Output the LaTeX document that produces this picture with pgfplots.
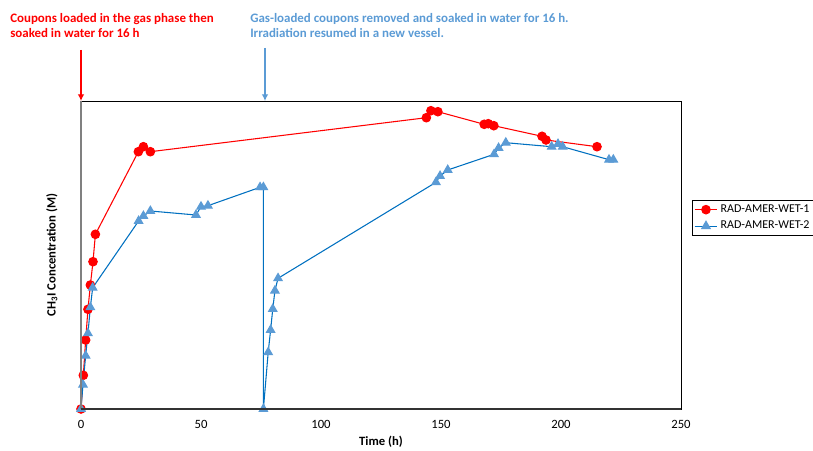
\documentclass[border=0pt]{standalone}
\usepackage{pgfplots}
\pgfplotsset{compat=1.18}
\usetikzlibrary{arrows.meta}
\usepackage{fontspec}
\setmainfont{Carlito}
\definecolor{exred}{RGB}{255,0,0}
\definecolor{exblue}{RGB}{91,155,213}
\definecolor{exline}{RGB}{0,112,192}
\begin{document}
\begin{tikzpicture}[x=0.75pt,y=0.75pt]
\path[use as bounding box] (-81,-41) rectangle (732,409);
\begin{axis}[
  at={(0,0)}, anchor=south west,
  scale only axis, width=450pt, height=231pt,
  xmin=0, xmax=250, ymin=0, ymax=308,
  xtick={0,50,100,150,200,250},
  ytick=\empty,
  major tick length=0pt,
  axis line style={black, line width=0.6pt},
  /pgf/number format/assume math mode=true,
  tick label style={font=\fontsize{9.5}{10}\selectfont},
  xticklabel style={yshift=-5pt},
  xlabel={\textbf{Time (h)}},
  xlabel style={font=\fontsize{9.5}{10}\selectfont, yshift=1pt},
  ylabel={\textbf{CH\textsubscript{3}I Concentration (M)}},
  ylabel style={font=\fontsize{9.5}{10}\selectfont, yshift=14pt},
  clip=false,
  legend style={at={(1.018,0.679)}, anchor=north west, font=\fontsize{9}{10}\selectfont, draw=black, inner sep=1.5pt, row sep=1pt, cells={anchor=west}},
  legend cell align=left,
]
\addplot[color=exred, line width=0.8pt, mark=*, mark size=3.2pt, mark options={fill=exred, draw=exred}] coordinates {
(0,0) (0.97,33.7) (1.94,69) (2.9,99.7) (3.9,124) (5,147.3) (6,174.7)
(23.9,257.3) (26,262.3) (28.9,257.3)
(143.9,291.3) (145.8,298.3) (148.7,297.3)
(168,284.7) (169.7,285.3) (172,283.3)
(192.1,272.7) (193.75,269) (215,262.3)
};
\addlegendentry{RAD-AMER-WET-1}
\addplot[color=exline, line width=0.8pt, mark=triangle*, mark size=3.6pt, mark options={fill=exblue, draw=exblue}] coordinates {
(0,0) (0.83,24.3) (1.94,53.3) (2.9,75.7) (3.9,101.7) (4.86,121.3)
(24,188) (26,193) (28.9,198) (47.9,194) (50,202.3) (52.9,203.3)
(74.6,221.7) (76,221.7) (76,0)
(78,56.7) (79,79) (79.9,100) (80.8,118.3) (82.1,130.7)
(147.9,226.7) (149.6,233) (152.8,239)
(172.1,254.7) (174,261) (177,266.3)
(196.1,262.3) (198.75,265) (200.7,262.3)
(220,249.3) (221.8,249.3)
};
\addlegendentry{RAD-AMER-WET-2}
\end{axis}
\draw[gray, line width=1.5pt] (0,0) -- (0,308);
\draw[black!80, line width=1.5pt] (0,0) -- (600,0);
\draw[exred, line width=1.2pt, -{Latex[length=5pt,width=5pt]}] (0,359) -- (0,308);
\draw[exblue, line width=1.2pt, -{Latex[length=5pt,width=5pt]}] (184,361) -- (184,308);
\node[anchor=north west, align=left, text=exred, font=\bfseries\fontsize{9.7}{11.5}\selectfont, inner sep=0pt] at (-71,396) {Coupons loaded in the gas phase then\\soaked in water for 16 h};
\node[anchor=north west, align=left, text=exblue, font=\bfseries\fontsize{9.7}{11.5}\selectfont, inner sep=0pt] at (169,396) {Gas-loaded coupons removed and soaked in water for 16 h.\\Irradiation resumed in a new vessel.};
\end{tikzpicture}
\end{document}
